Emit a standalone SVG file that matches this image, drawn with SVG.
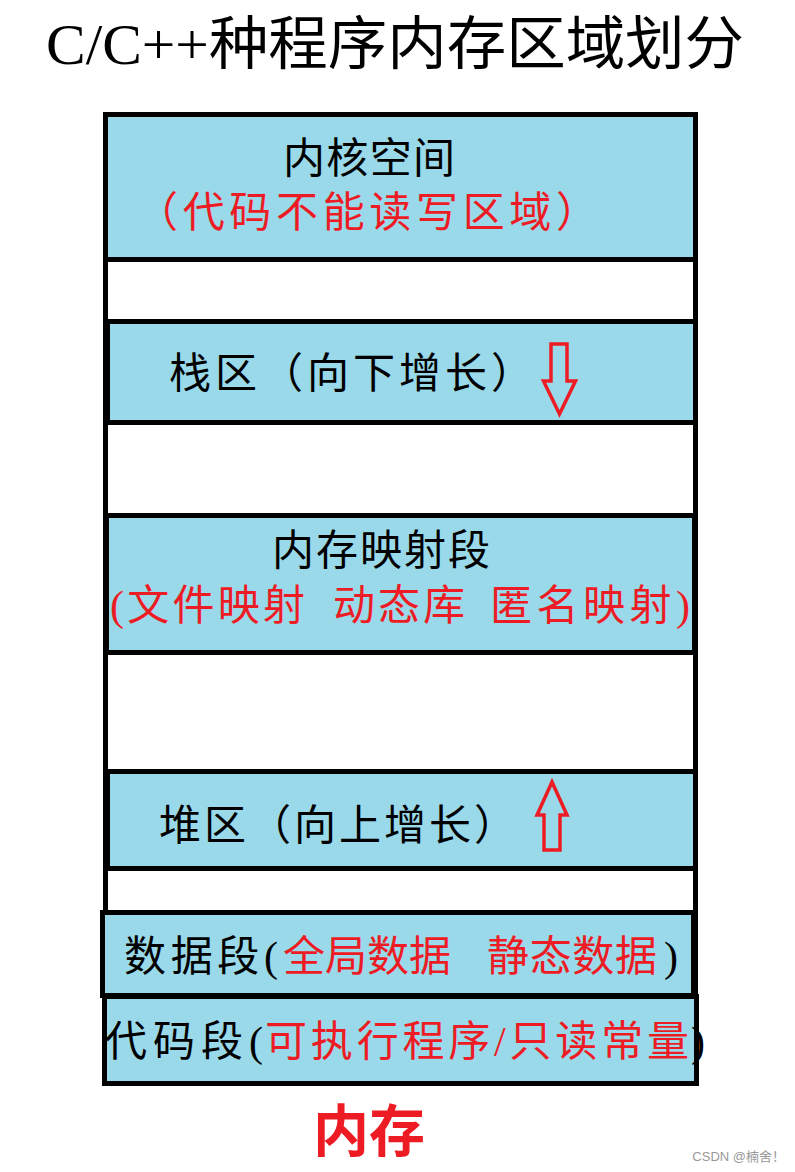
<svg xmlns="http://www.w3.org/2000/svg" width="795" height="1172" viewBox="0 0 795 1172">
<style>
.box{fill:#99D9EA;stroke:#000;stroke-width:5}
.frame{fill:#fff;stroke:#000;stroke-width:5}
.t{font-family:"Liberation Serif","Noto Sans CJK SC",serif;font-size:42px;fill:#000}
.r{fill:#ED1C24}
.arrow{fill:none;stroke:#ED1C24;stroke-width:3.5;stroke-linejoin:miter}
</style>
<rect width="795" height="1172" fill="#fff"/>
<text x="395" y="64" text-anchor="middle" font-family="Liberation Serif,'Noto Sans CJK SC',serif" font-size="58" textLength="698" lengthAdjust="spacingAndGlyphs">C/C++种程序内存区域划分</text>
<rect class="frame" x="105.5" y="114.5" width="590" height="968"/>
<g id="kernel">
<rect class="box" x="105.5" y="114.5" width="590" height="145"/>
<text class="t" x="369" y="173" text-anchor="middle" textLength="172">内核空间</text>
<text class="t r" x="367" y="227" text-anchor="middle" textLength="462">（代码不能读写区域）</text>
</g>
<g id="stack">
<rect class="box" x="107.5" y="321.5" width="588" height="101"/>
<text class="t" x="169" y="388" textLength="364">栈区（向下增长）</text>
</g>
<g id="mmap">
<rect class="box" x="106.5" y="515.5" width="588" height="137"/>
<text class="t" x="381" y="565" text-anchor="middle" textLength="218">内存映射段</text>
<text class="t r" x="110" y="620" textLength="195">(文件映射</text>
<text class="t r" x="333" y="620" textLength="132">动态库</text>
<text class="t r" x="490" y="620" textLength="200">匿名映射)</text>
</g>
<g id="heap">
<rect class="box" x="107.5" y="771.5" width="588" height="97"/>
<text class="t" x="159" y="840" textLength="357">堆区（向上增长）</text>
</g>
<g id="data">
<rect class="box" x="102.5" y="912.5" width="591" height="83"/>
<text class="t" x="124" y="971" textLength="154">数据段(</text>
<text class="t r" x="283" y="971" textLength="168">全局数据</text>
<text class="t r" x="487" y="971" textLength="170">静态数据</text>
<text class="t" x="664" y="971">)</text>
</g>
<g id="code">
<rect class="box" x="104.5" y="996.5" width="592" height="87"/>
<text class="t" x="105" y="1056" textLength="158">代码段(</text>
<text class="t r" x="265" y="1056" textLength="424">可执行程序/只读常量</text>
<text class="t" x="691" y="1056">)</text>
</g>
<g id="connectors">
<path class="arrow" d="M551,344 H567 V381 H575.5 L559.5,414 L543.5,381 H551 Z"/>
<path class="arrow" d="M552,782 L567,815 H560 V850 H544 V815 H537 Z"/>
</g>
<text x="369" y="1151" text-anchor="middle" font-family="'Liberation Serif','Noto Sans CJK SC',serif" font-size="56" font-weight="bold" fill="#ED1C24">内存</text>
<text x="785" y="1161" text-anchor="end" font-family="'Liberation Sans','Noto Sans CJK SC',sans-serif" font-size="13" fill="#999">CSDN @楠舍！</text>
</svg>
